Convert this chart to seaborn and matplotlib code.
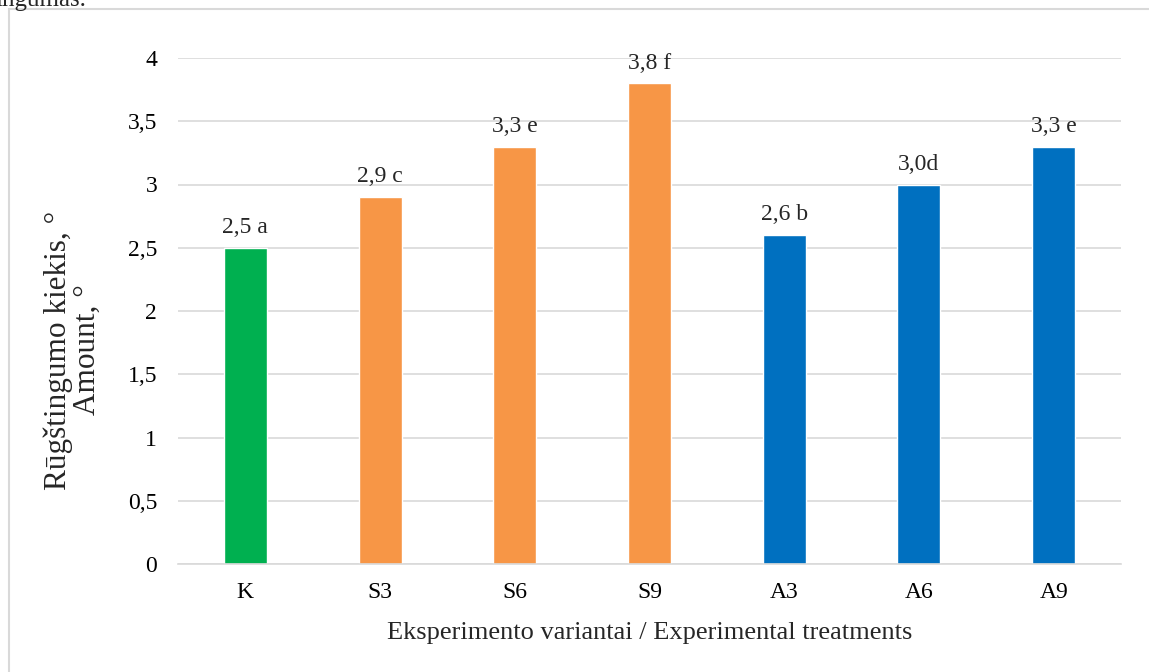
import matplotlib
matplotlib.use("Agg")
import matplotlib.pyplot as plt
import seaborn as sns
import pandas as pd
from matplotlib.patches import Rectangle
from matplotlib.ticker import FuncFormatter

# Acidity values per experimental treatment
treatments = ["K", "S3", "S6", "S9", "A3", "A6", "A9"]
values = [2.5, 2.9, 3.3, 3.8, 2.6, 3.0, 3.3]
labels = ["2,5 a", "2,9 c", "3,3 e", "3,8 f", "2,6 b", "3,0d", "3,3 e"]
groups = ["Kontrolė", "S", "S", "S", "A", "A", "A"]
palette = {"Kontrolė": "#00B050", "S": "#F79646", "A": "#0070C0"}

df = pd.DataFrame({"treatment": treatments, "value": values, "group": groups})

sns.set_theme(style="white")
plt.rcParams["font.family"] = ["Liberation Serif", "DejaVu Serif"]

W, H = 1149, 672
fig = plt.figure(figsize=(W / 100, H / 100), dpi=100)
ax = fig.add_axes([178 / W, 1 - 564 / H, 943 / W, 506 / H])

sns.barplot(data=df, x="treatment", y="value", hue="group", palette=palette,
            dodge=False, width=0.32, legend=False, ax=ax, saturation=1)

ax.set_ylim(0, 4)
ax.set_yticks([0, 0.5, 1, 1.5, 2, 2.5, 3, 3.5, 4])
ax.yaxis.set_major_formatter(FuncFormatter(lambda v, p: f"{v:g}".replace(".", ",")))
ax.grid(axis="y", color="#D9D9D9", linewidth=1.2)
ax.set_axisbelow(True)
for s in ["top", "right", "left"]:
    ax.spines[s].set_visible(False)
ax.spines["bottom"].set_color("#D9D9D9")
ax.spines["bottom"].set_linewidth(1.2)
ax.tick_params(axis="both", length=0, labelsize=17, colors="black")
ax.tick_params(axis="y", pad=15)
ax.tick_params(axis="x", pad=13)

for i, (v, lab) in enumerate(zip(values, labels)):
    ax.annotate(lab, (i, v), xytext=(0, 7), textcoords="offset points",
                ha="center", va="bottom", fontsize=17)

ax.set_xlabel("Eksperimento variantai / Experimental treatments", fontsize=19, labelpad=14)
ax.set_ylabel("")
fig.text(73 / W, 1 - 350 / H, "Rūgštingumo kiekis, °\nAmount, °", rotation=90,
         ha="center", va="center", fontsize=22.5, linespacing=1.0,
         multialignment="center")

# Chart area frame
fig.patches.append(Rectangle((9 / W, -0.05), 1.1, 1 - 9 / H + 0.05,
                             transform=fig.transFigure, fill=False,
                             edgecolor="#D9D9D9", linewidth=1.5))
fig.text(-0.004, 1.0, "ingumas.", fontsize=18, ha="left", va="center")

fig.savefig("out.png", dpi=100)
